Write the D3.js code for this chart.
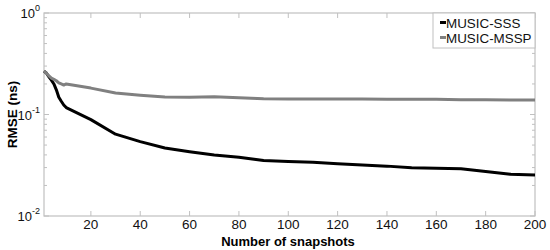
<!DOCTYPE html>
<html><head><meta charset="utf-8">
<script src="https://cdn.jsdelivr.net/npm/d3@7"></script>
<style>body{margin:0;background:#fff}svg{display:block;font-family:Arial,"Liberation Sans",sans-serif}</style>
</head><body>
<svg id="c" width="550" height="250"></svg>
<script>
const snapshots = [1,2,3,4,5,6,7,8,9,10,20,30,40,50,60,70,80,90,100,110,120,130,140,150,160,170,180,190,200];
const sss  = [0.268,0.255,0.235,0.218,0.200,0.175,0.148,0.135,0.124,0.117,0.089,0.064,0.054,0.0468,0.043,0.040,0.038,0.0352,0.0345,0.0338,0.0327,0.0318,0.0310,0.0298,0.0295,0.0292,0.0275,0.0258,0.0253];
const mssp = [0.268,0.255,0.240,0.228,0.222,0.215,0.205,0.200,0.195,0.200,0.182,0.163,0.155,0.149,0.148,0.150,0.146,0.143,0.142,0.142,0.142,0.142,0.141,0.141,0.141,0.140,0.140,0.139,0.139];
const seriesNames = ["MUSIC-SSS","MUSIC-MSSP"];
const seriesColors = ["#000000","#808080"];
const xTicks = [20,40,60,80,100,120,140,160,180,200];
const yMajor = [1e-2,1e-1,1e0];
const yExp = ["-2","-1","0"];

const svg = d3.select("#c");
const L=44,R=535,T=13,B=216;
const x = d3.scaleLinear().domain([1,200]).range([L,R]);
const y = d3.scaleLog().domain([1e-2,1]).range([B,T]);
const axisCol="#c0c0c0";

// minor ticks
const minors=[];
for(let e=-2;e<0;e++) for(let k=2;k<=9;k++) minors.push(k*Math.pow(10,e));
const g=svg.append("g");
g.selectAll("line.ml").data(minors).join("line").attr("x1",L).attr("x2",L+3).attr("y1",d=>y(d)).attr("y2",d=>y(d)).attr("stroke",axisCol);
g.selectAll("line.mr").data(minors).join("line").attr("x1",R).attr("x2",R-3).attr("y1",d=>y(d)).attr("y2",d=>y(d)).attr("stroke",axisCol);
g.selectAll("line.Ml").data(yMajor).join("line").attr("x1",L).attr("x2",L+5).attr("y1",d=>y(d)).attr("y2",d=>y(d)).attr("stroke",axisCol);
g.selectAll("line.Mr").data(yMajor).join("line").attr("x1",R).attr("x2",R-5).attr("y1",d=>y(d)).attr("y2",d=>y(d)).attr("stroke",axisCol);
g.selectAll("line.xb").data(xTicks).join("line").attr("x1",d=>x(d)).attr("x2",d=>x(d)).attr("y1",B).attr("y2",B-5).attr("stroke",axisCol);
g.selectAll("line.xt").data(xTicks).join("line").attr("x1",d=>x(d)).attr("x2",d=>x(d)).attr("y1",T).attr("y2",T+5).attr("stroke",axisCol);
g.append("rect").attr("x",L).attr("y",T).attr("width",R-L).attr("height",B-T).attr("fill","none").attr("stroke",axisCol).attr("stroke-width",1.2);

// x tick labels
svg.append("g").selectAll("text").data(xTicks).join("text")
  .attr("x",d=>x(d)).attr("y",229).attr("text-anchor","middle").attr("font-size",13.5).attr("fill","#111").text(d=>d);
// y tick labels
const yl=svg.append("g").selectAll("text").data(yMajor).join("text")
  .attr("x",L-4).attr("y",(d)=>y(d)+5).attr("text-anchor","end").attr("font-size",13).attr("fill","#111");
yl.append("tspan").text("10");
yl.append("tspan").attr("font-size",9).attr("dy",-7).text((d,i)=>yExp[i]);

// axis titles
svg.append("text").attr("x",288).attr("y",245.5).attr("text-anchor","middle").attr("font-size",13).attr("font-weight","bold").text("Number of snapshots");
svg.append("text").attr("transform",`translate(17,${(T+B)/2}) rotate(-90)`).attr("text-anchor","middle").attr("font-size",13.5).attr("font-weight","bold").text("RMSE (ns)");

// lines
const line=d3.line().x((d,i)=>x(snapshots[i])).y(d=>y(d));
[sss,mssp].forEach((s,i)=>{
  svg.append("path").datum(s).attr("d",line).attr("fill","none").attr("stroke",seriesColors[i]).attr("stroke-width",3).attr("stroke-linejoin","round");
});

// legend
const lg=svg.append("g");
lg.append("rect").attr("x",433).attr("y",13).attr("width",R-433).attr("height",35).attr("fill","#fff").attr("stroke",axisCol);
seriesNames.forEach((n,i)=>{
  const yy=27.5+i*15;
  lg.append("line").attr("x1",440).attr("x2",446).attr("y1",yy-5).attr("y2",yy-5).attr("stroke",seriesColors[i]).attr("stroke-width",3);
  lg.append("text").attr("x",446).attr("y",yy).attr("font-size",13.4).attr("fill","#111").text(n);
});
</script>
</body></html>
